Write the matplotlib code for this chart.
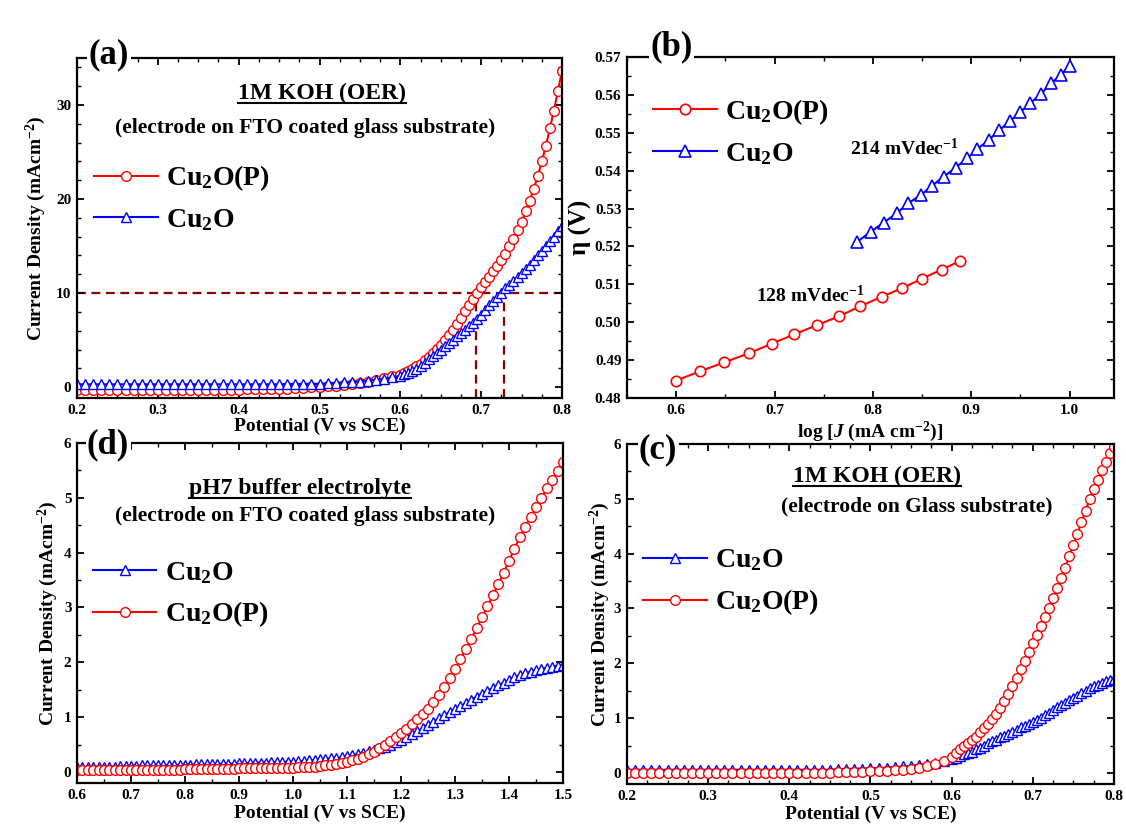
import numpy as np
import matplotlib
matplotlib.use('Agg')
import matplotlib.pyplot as plt
from matplotlib.ticker import MultipleLocator
from matplotlib.lines import Line2D

plt.rcParams['font.family'] = 'Liberation Serif'
plt.rcParams['font.weight'] = 'bold'
plt.rcParams['axes.labelweight'] = 'bold'
plt.rcParams['mathtext.fontset'] = 'custom'
plt.rcParams['mathtext.rm'] = 'Liberation Serif:bold'
plt.rcParams['mathtext.it'] = 'Liberation Serif:italic:bold'
plt.rcParams['mathtext.bf'] = 'Liberation Serif:bold'
plt.rcParams['mathtext.default'] = 'rm'

#### data

# (a) 1M KOH, FTO substrate : potential grid (V vs SCE)
v_koh = np.round(np.concatenate([np.arange(0.20, 0.595, 0.01),
                                 np.arange(0.60, 0.8001, 0.005)]), 3)

j_a_cu2op = [-0.3, -0.3, -0.3, -0.3, -0.3, -0.3, -0.3, -0.3, -0.3, -0.3,
             -0.3, -0.3, -0.3, -0.3, -0.3, -0.3, -0.3, -0.3, -0.3, -0.3,
             -0.3, -0.25, -0.25, -0.2, -0.2, -0.2, -0.15, -0.1, -0.05, 0.0,
             0.05, 0.1, 0.15, 0.25, 0.35, 0.45, 0.6, 0.8, 1.0, 1.15,
             1.3, 1.5, 1.7, 1.95, 2.2, 2.5, 2.85, 3.2, 3.6, 4.05,
             4.5, 5.0, 5.5, 6.1, 6.7, 7.4, 8.1, 8.75, 9.4, 10.0,
             10.6, 11.15, 11.7, 12.3, 12.9, 13.55, 14.2, 15.0, 15.8, 16.7,
             17.6, 18.7, 19.8, 21.1, 22.4, 24.0, 25.6, 27.5, 29.4, 31.5,
             33.6]
j_a_cu2o = [0.3, 0.3, 0.3, 0.3, 0.3, 0.3, 0.3, 0.3, 0.3, 0.3,
            0.3, 0.3, 0.3, 0.3, 0.3, 0.3, 0.3, 0.3, 0.3, 0.3,
            0.3, 0.3, 0.3, 0.3, 0.3, 0.3, 0.35, 0.35, 0.35, 0.35,
            0.35, 0.4, 0.45, 0.5, 0.55, 0.6, 0.7, 0.8, 0.9, 1.05,
            1.2, 1.4, 1.55, 1.75, 1.95, 2.25, 2.6, 2.95, 3.3, 3.65,
            4.0, 4.35, 4.7, 5.05, 5.4, 5.75, 6.1, 6.45, 6.8, 7.25,
            7.7, 8.2, 8.7, 9.15, 9.6, 10.05, 10.5, 10.9, 11.3, 11.7,
            12.1, 12.55, 13.0, 13.5, 14.0, 14.5, 15.0, 15.5, 16.0, 16.55,
            17.1]
j_ref = 10
v_at_10 = [0.693, 0.728]

# (b) Tafel
logj_cu2op = [0.600, 0.624, 0.649, 0.674, 0.697, 0.720, 0.743, 0.766, 0.787,
              0.809, 0.830, 0.850, 0.870, 0.889]
eta_cu2op = [0.4846, 0.4870, 0.4894, 0.4918, 0.4943, 0.4968, 0.4992, 0.5016,
             0.5042, 0.5067, 0.5090, 0.5115, 0.5139, 0.5162]
logj_cu2o = [0.784, 0.798, 0.811, 0.824, 0.836, 0.849, 0.860, 0.872, 0.884,
             0.896, 0.906, 0.918, 0.928, 0.939, 0.950, 0.960, 0.971, 0.981,
             0.991, 1.000]
eta_cu2o = [0.5212, 0.5239, 0.5263, 0.5287, 0.5314, 0.5336, 0.5360, 0.5384,
            0.5408, 0.5433, 0.5457, 0.5481, 0.5506, 0.5530, 0.5555, 0.5578,
            0.5603, 0.5630, 0.5653, 0.5677]
slope_labels = ['214 mVdec$^{-1}$', '128 mVdec$^{-1}$']

# (c) 1M KOH, glass substrate (same potential grid as a)
j_c_cu2o = [0.06, 0.06, 0.06, 0.06, 0.06, 0.06, 0.06, 0.06, 0.06, 0.06,
            0.06, 0.06, 0.06, 0.06, 0.06, 0.06, 0.06, 0.06, 0.06, 0.06,
            0.06, 0.06, 0.06, 0.06, 0.06, 0.06, 0.07, 0.07, 0.08, 0.08,
            0.09, 0.09, 0.10, 0.11, 0.12, 0.13, 0.15, 0.17, 0.19, 0.22,
            0.25, 0.28, 0.31, 0.34, 0.36, 0.39, 0.43, 0.46, 0.50, 0.54,
            0.58, 0.61, 0.65, 0.68, 0.72, 0.75, 0.79, 0.83, 0.86, 0.90,
            0.93, 0.97, 1.01, 1.05, 1.10, 1.15, 1.20, 1.24, 1.28, 1.33,
            1.37, 1.41, 1.46, 1.50, 1.55, 1.58, 1.61, 1.64, 1.67, 1.69,
            1.72]
j_c_cu2op = [0.0, 0.0, 0.0, 0.0, 0.0, 0.0, 0.0, 0.0, 0.0, 0.0,
             0.0, 0.0, 0.0, 0.0, 0.0, 0.0, 0.0, 0.0, 0.0, 0.0,
             0.0, 0.0, 0.0, 0.0, 0.0, 0.0, 0.01, 0.01, 0.02, 0.02,
             0.03, 0.03, 0.04, 0.05, 0.06, 0.08, 0.10, 0.12, 0.16, 0.22,
             0.30, 0.36, 0.43, 0.50, 0.54, 0.60, 0.66, 0.74, 0.82, 0.90,
             0.98, 1.08, 1.18, 1.31, 1.44, 1.59, 1.74, 1.89, 2.05, 2.21,
             2.37, 2.52, 2.68, 2.84, 3.01, 3.19, 3.38, 3.55, 3.74, 3.95,
             4.16, 4.35, 4.58, 4.78, 5.00, 5.17, 5.34, 5.52, 5.68, 5.84,
             5.95]

# (d) pH7 buffer, FTO substrate
v_ph7 = np.round(np.arange(0.60, 1.5001, 0.01), 2)
j_d_cu2o = [0.09, 0.09, 0.09, 0.09, 0.10, 0.10, 0.10, 0.10, 0.11, 0.11,
            0.11, 0.11, 0.12, 0.12, 0.12, 0.12, 0.12, 0.13, 0.13, 0.13,
            0.13, 0.13, 0.14, 0.14, 0.14, 0.14, 0.15, 0.15, 0.15, 0.15,
            0.16, 0.16, 0.16, 0.17, 0.17, 0.17, 0.18, 0.18, 0.18, 0.19,
            0.19, 0.20, 0.20, 0.21, 0.22, 0.23, 0.24, 0.25, 0.26, 0.27,
            0.29, 0.31, 0.33, 0.35, 0.38, 0.40, 0.43, 0.46, 0.50, 0.54,
            0.58, 0.63, 0.69, 0.74, 0.80, 0.86, 0.92, 0.98, 1.04, 1.09,
            1.14, 1.20, 1.26, 1.32, 1.37, 1.43, 1.48, 1.53, 1.58, 1.63,
            1.68, 1.73, 1.77, 1.80, 1.83, 1.86, 1.88, 1.90, 1.92, 1.94,
            1.95]
j_d_cu2op = [0.03, 0.03, 0.03, 0.03, 0.03, 0.03, 0.03, 0.03, 0.03, 0.03,
             0.04, 0.04, 0.04, 0.04, 0.04, 0.04, 0.04, 0.04, 0.04, 0.04,
             0.05, 0.05, 0.05, 0.05, 0.05, 0.06, 0.06, 0.06, 0.06, 0.06,
             0.07, 0.07, 0.07, 0.07, 0.07, 0.07, 0.08, 0.08, 0.08, 0.08,
             0.08, 0.085, 0.09, 0.095, 0.10, 0.11, 0.12, 0.13, 0.14, 0.16,
             0.18, 0.21, 0.24, 0.28, 0.32, 0.37, 0.43, 0.49, 0.56, 0.63,
             0.71, 0.79, 0.87, 0.96, 1.05, 1.15, 1.27, 1.40, 1.55, 1.71,
             1.88, 2.06, 2.24, 2.43, 2.62, 2.82, 3.02, 3.22, 3.42, 3.63,
             3.85, 4.07, 4.28, 4.47, 4.65, 4.83, 5.00, 5.17, 5.33, 5.49,
             5.65]

RED = '#ff0000'
BLUE = '#0000ff'
DASH = '#8b0000'
lab_p = 'Cu$_2$O(P)'
lab_0 = 'Cu$_2$O'
ylab = 'Current Density (mAcm$^{-2}$)'
xlab = 'Potential (V vs SCE)'

fig = plt.figure(figsize=(11.26, 8.35), dpi=100)
fig.patch.set_facecolor('white')
ax_a = fig.add_axes([0.0684, 0.5234, 0.4307, 0.4072])
ax_b = fig.add_axes([0.5568, 0.5234, 0.4325, 0.4084])
ax_d = fig.add_axes([0.0684, 0.0623, 0.4316, 0.4072])
ax_c = fig.add_axes([0.5568, 0.0611, 0.4325, 0.4072])


def style(ax, xmaj, xmin, ymaj, ymin):
    ax.xaxis.set_major_locator(MultipleLocator(xmaj))
    ax.xaxis.set_minor_locator(MultipleLocator(xmin))
    ax.yaxis.set_major_locator(MultipleLocator(ymaj))
    ax.yaxis.set_minor_locator(MultipleLocator(ymin))
    ax.tick_params(which='both', direction='in', top=True, right=True, labelsize=11)
    ax.tick_params(which='major', length=5, width=1.3, pad=4)
    ax.tick_params(which='minor', length=3, width=1.0)
    for s in ax.spines.values():
        s.set_linewidth(1.6)


def series(ax, x, y, kind, label):
    if kind == 'p':
        ax.plot(x, y, color=RED, lw=1.5, marker='o', ms=7, mfc='white',
                mec=RED, mew=1.0, label=label)
    else:
        ax.plot(x, y, color=BLUE, lw=1.5, marker='^', ms=7, mfc='white',
                mec=BLUE, mew=1.0, label=label)


def legend(ax, x, y):
    ax.legend(loc='center left', bbox_to_anchor=(x, y), frameon=False,
              fontsize=20, handlelength=2.3, handletextpad=0.3,
              labelspacing=0.5, borderpad=0, borderaxespad=0, numpoints=1)


def panel(ax, s, x, y):
    ax.text(x, y, s, transform=ax.transAxes, fontsize=25, ha='center', va='center',
            zorder=10, clip_on=False,
            bbox=dict(facecolor='white', edgecolor='none', pad=1))


titles = []

# (a)
series(ax_a, v_koh, j_a_cu2op, 'p', lab_p)
series(ax_a, v_koh, j_a_cu2o, 'o', lab_0)
ax_a.set_xlim(0.2, 0.8)
ax_a.set_ylim(-1.15, 35)
ax_a.axhline(j_ref, color=DASH, lw=1.6, ls=(0, (4, 2.5)), zorder=1)
ax_a.vlines(v_at_10, -1.15, j_ref, color=DASH, lw=1.6, ls=(0, (4, 2.5)), zorder=1)
style(ax_a, 0.1, 0.025, 10, 2)
ax_a.set_xlabel(xlab, fontsize=14, labelpad=1)
ax_a.set_ylabel(ylab, fontsize=14, labelpad=6)
legend(ax_a, 0.035, 0.587)
titles.append(ax_a.text(0.505, 0.896, '1M KOH (OER)', transform=ax_a.transAxes,
                        fontsize=17, ha='center', va='center'))
ax_a.text(0.471, 0.793, '(electrode on FTO coated glass substrate)',
          transform=ax_a.transAxes, fontsize=15.5, ha='center', va='center')
panel(ax_a, '(a)', 0.066, 1.009)

# (b)
ax_b.plot(logj_cu2op, eta_cu2op, color=RED, lw=1.5, marker='o', ms=7.5,
          mfc='white', mec=RED, mew=1.2, label=lab_p)
ax_b.plot(logj_cu2o, eta_cu2o, color=BLUE, lw=1.5, marker='^', ms=8,
          mfc='white', mec=BLUE, mew=1.2, label=lab_0)
ax_b.set_xlim(0.55, 1.045)
ax_b.set_ylim(0.48, 0.57)
style(ax_b, 0.1, 0.05, 0.01, 0.005)
ax_b.set_xlabel('log [$\\mathit{J}$ (mA cm$^{-2}$)]', fontsize=14, labelpad=2)
ax_b.set_ylabel('η (V)', fontsize=18, labelpad=2)
legend(ax_b, 0.053, 0.780)
ax_b.text(0.7767, 0.5459, slope_labels[0], fontsize=14, ha='left', va='center')
ax_b.text(0.6812, 0.5071, slope_labels[1], fontsize=14, ha='left', va='center')
panel(ax_b, '(b)', 0.092, 1.029)

# (d)
series(ax_d, v_ph7, j_d_cu2o, 'o', lab_0)
series(ax_d, v_ph7, j_d_cu2op, 'p', lab_p)
ax_d.set_xlim(0.6, 1.5)
ax_d.set_ylim(-0.2, 6)
style(ax_d, 0.1, 0.05, 1, 0.5)
ax_d.set_xlabel(xlab, fontsize=14, labelpad=2)
ax_d.set_ylabel(ylab, fontsize=14, labelpad=3)
legend(ax_d, 0.032, 0.554)
titles.append(ax_d.text(0.459, 0.867, 'pH7 buffer electrolyte', transform=ax_d.transAxes,
                        fontsize=17, ha='center', va='center'))
ax_d.text(0.470, 0.785, '(electrode on FTO coated glass substrate)',
          transform=ax_d.transAxes, fontsize=15.5, ha='center', va='center')
panel(ax_d, '(d)', 0.064, 0.994)

# (c)
series(ax_c, v_koh, j_c_cu2o, 'o', lab_0)
series(ax_c, v_koh, j_c_cu2op, 'p', lab_p)
ax_c.set_xlim(0.2, 0.8)
ax_c.set_ylim(-0.2, 6)
style(ax_c, 0.1, 0.025, 1, 0.5)
ax_c.set_xlabel(xlab, fontsize=14, labelpad=2)
ax_c.set_ylabel(ylab, fontsize=14, labelpad=1)
legend(ax_c, 0.033, 0.593)
titles.append(ax_c.text(0.513, 0.904, '1M KOH (OER)', transform=ax_c.transAxes,
                        fontsize=17, ha='center', va='center'))
ax_c.text(0.596, 0.816, '(electrode on Glass substrate)',
          transform=ax_c.transAxes, fontsize=15.5, ha='center', va='center')
panel(ax_c, '(c)', 0.064, 0.982)

# underline the electrolyte titles
fig.canvas.draw()
r = fig.canvas.get_renderer()
inv = fig.transFigure.inverted()
for t in titles:
    bb = t.get_window_extent(renderer=r)
    (x0, y0), (x1, _) = inv.transform([(bb.x0, bb.y0 + 1), (bb.x1, bb.y0)])
    fig.add_artist(Line2D([x0, x1], [y0, y0], transform=fig.transFigure,
                          color='black', lw=1.5))

fig.savefig('out.png', dpi=100, facecolor='white')
